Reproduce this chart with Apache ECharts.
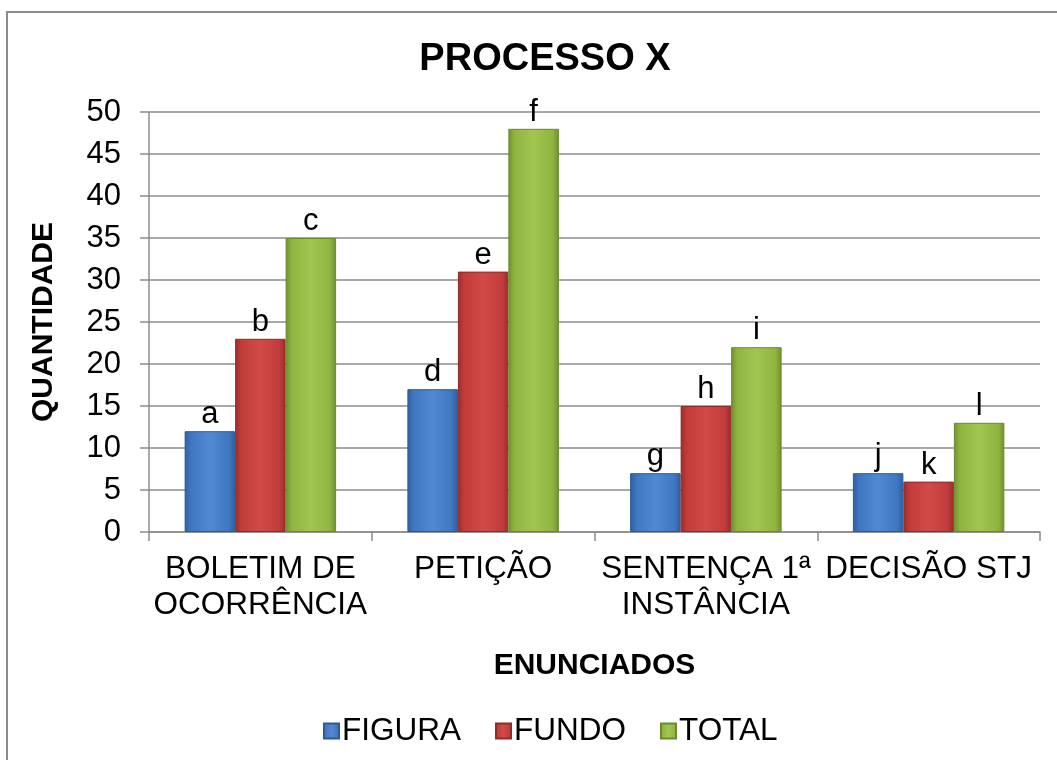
<!DOCTYPE html>
<html>
<head>
<meta charset="utf-8">
<title>PROCESSO X</title>
<script src="https://cdn.jsdelivr.net/npm/echarts@6/dist/echarts.min.js"></script>
<style>
  html, body { margin: 0; padding: 0; background: #fff; }
  #main { width: 1057px; height: 760px; }
</style>
</head>
<body>
<div id="main"></div>
<script>
// categories (line breaks as in the original labels)
var categories = ["BOLETIM DE\nOCORRÊNCIA", "PETIÇÃO", "SENTENÇA 1ª\nINSTÂNCIA", "DECISÃO STJ"];
var figura = [12, 17, 7, 7];
var fundo = [23, 31, 15, 6];
var total = [35, 48, 22, 13];
var figuraLetters = ["a", "d", "g", "j"];
var fundoLetters = ["b", "e", "h", "k"];
var totalLetters = ["c", "f", "i", "l"];
var yTicks = { min: 0, max: 50, step: 5 };

var font = "Liberation Sans, Arial, sans-serif";

function barFill(dark, mid, light) {
  return new echarts.graphic.LinearGradient(0, 0, 1, 0, [
    { offset: 0, color: dark },
    { offset: 0.12, color: mid },
    { offset: 0.5, color: light },
    { offset: 0.88, color: mid },
    { offset: 1, color: dark }
  ]);
}

function makeSeries(name, values, letters, fill, border) {
  return {
    name: name,
    type: "bar",
    data: values,
    barGap: "0%",
    barCategoryGap: "32%",
    itemStyle: { color: fill, borderColor: border, borderWidth: 1 },
    label: {
      show: true,
      position: "top",
      distance: 1,
      fontFamily: font,
      fontSize: 31,
      color: "#000",
      formatter: function (p) { return letters[p.dataIndex]; }
    }
  };
}

var myChart = echarts.init(document.getElementById("main"));
var option = {
  animation: false,
  backgroundColor: "#fff",
  graphic: [{
    type: "rect",
    shape: { x: 7, y: 12, width: 1200, height: 900 },
    style: { fill: "none", stroke: "#8c8c8c", lineWidth: 2 },
    silent: true
  }],
  title: {
    text: "PROCESSO X",
    left: 540,
    textAlign: "center",
    top: 36,
    textStyle: { fontFamily: font, fontSize: 38, fontWeight: "bold", color: "#000" }
  },
  legend: {
    data: ["FIGURA", "FUNDO", "TOTAL"],
    left: 318,
    top: 710,
    itemWidth: 15,
    itemHeight: 15,
    itemGap: 34,
    icon: "rect",
    textStyle: { fontFamily: font, fontSize: 31.5, color: "#000", padding: [0, 0, 0, -2] }
  },
  grid: { left: 149, right: 17, top: 112, bottom: 228 },
  xAxis: {
    type: "category",
    data: categories,
    name: "ENUNCIADOS",
    nameLocation: "middle",
    nameGap: 119,
    nameTextStyle: { fontFamily: font, fontSize: 30, fontWeight: "bold", color: "#000" },
    axisLine: { lineStyle: { color: "#8c8c8c", width: 1.5 } },
    axisTick: { show: true, alignWithLabel: false, length: 9, lineStyle: { color: "#8c8c8c", width: 1.5 } },
    axisLabel: { interval: 0, hideOverlap: false, fontFamily: font, fontSize: 31.5, lineHeight: 36, color: "#000", margin: 19 }
  },
  yAxis: {
    type: "value",
    min: yTicks.min,
    max: yTicks.max,
    interval: yTicks.step,
    name: "QUANTIDADE",
    nameLocation: "middle",
    nameRotate: 90,
    nameGap: 90,
    nameTextStyle: { fontFamily: font, fontSize: 30, fontWeight: "bold", color: "#000" },
    axisLine: { show: true, lineStyle: { color: "#8c8c8c", width: 1.5 } },
    axisTick: { show: true, length: 9, lineStyle: { color: "#8c8c8c", width: 1.5 } },
    axisLabel: { fontFamily: font, fontSize: 31, color: "#000", margin: 28 },
    splitLine: { show: true, lineStyle: { color: "#8c8c8c", width: 1.5 } }
  },
  series: [
    makeSeries("FIGURA", figura, figuraLetters, barFill("#2d5f9e", "#3f76c0", "#5289d2"), "#2b5a94"),
    makeSeries("FUNDO", fundo, fundoLetters, barFill("#9a2d2b", "#c03c3a", "#d24a47"), "#8f2b29"),
    makeSeries("TOTAL", total, totalLetters, barFill("#6f8f30", "#8fb440", "#a2c650"), "#6a8a2e")
  ]
};
myChart.setOption(option);
</script>
</body>
</html>
